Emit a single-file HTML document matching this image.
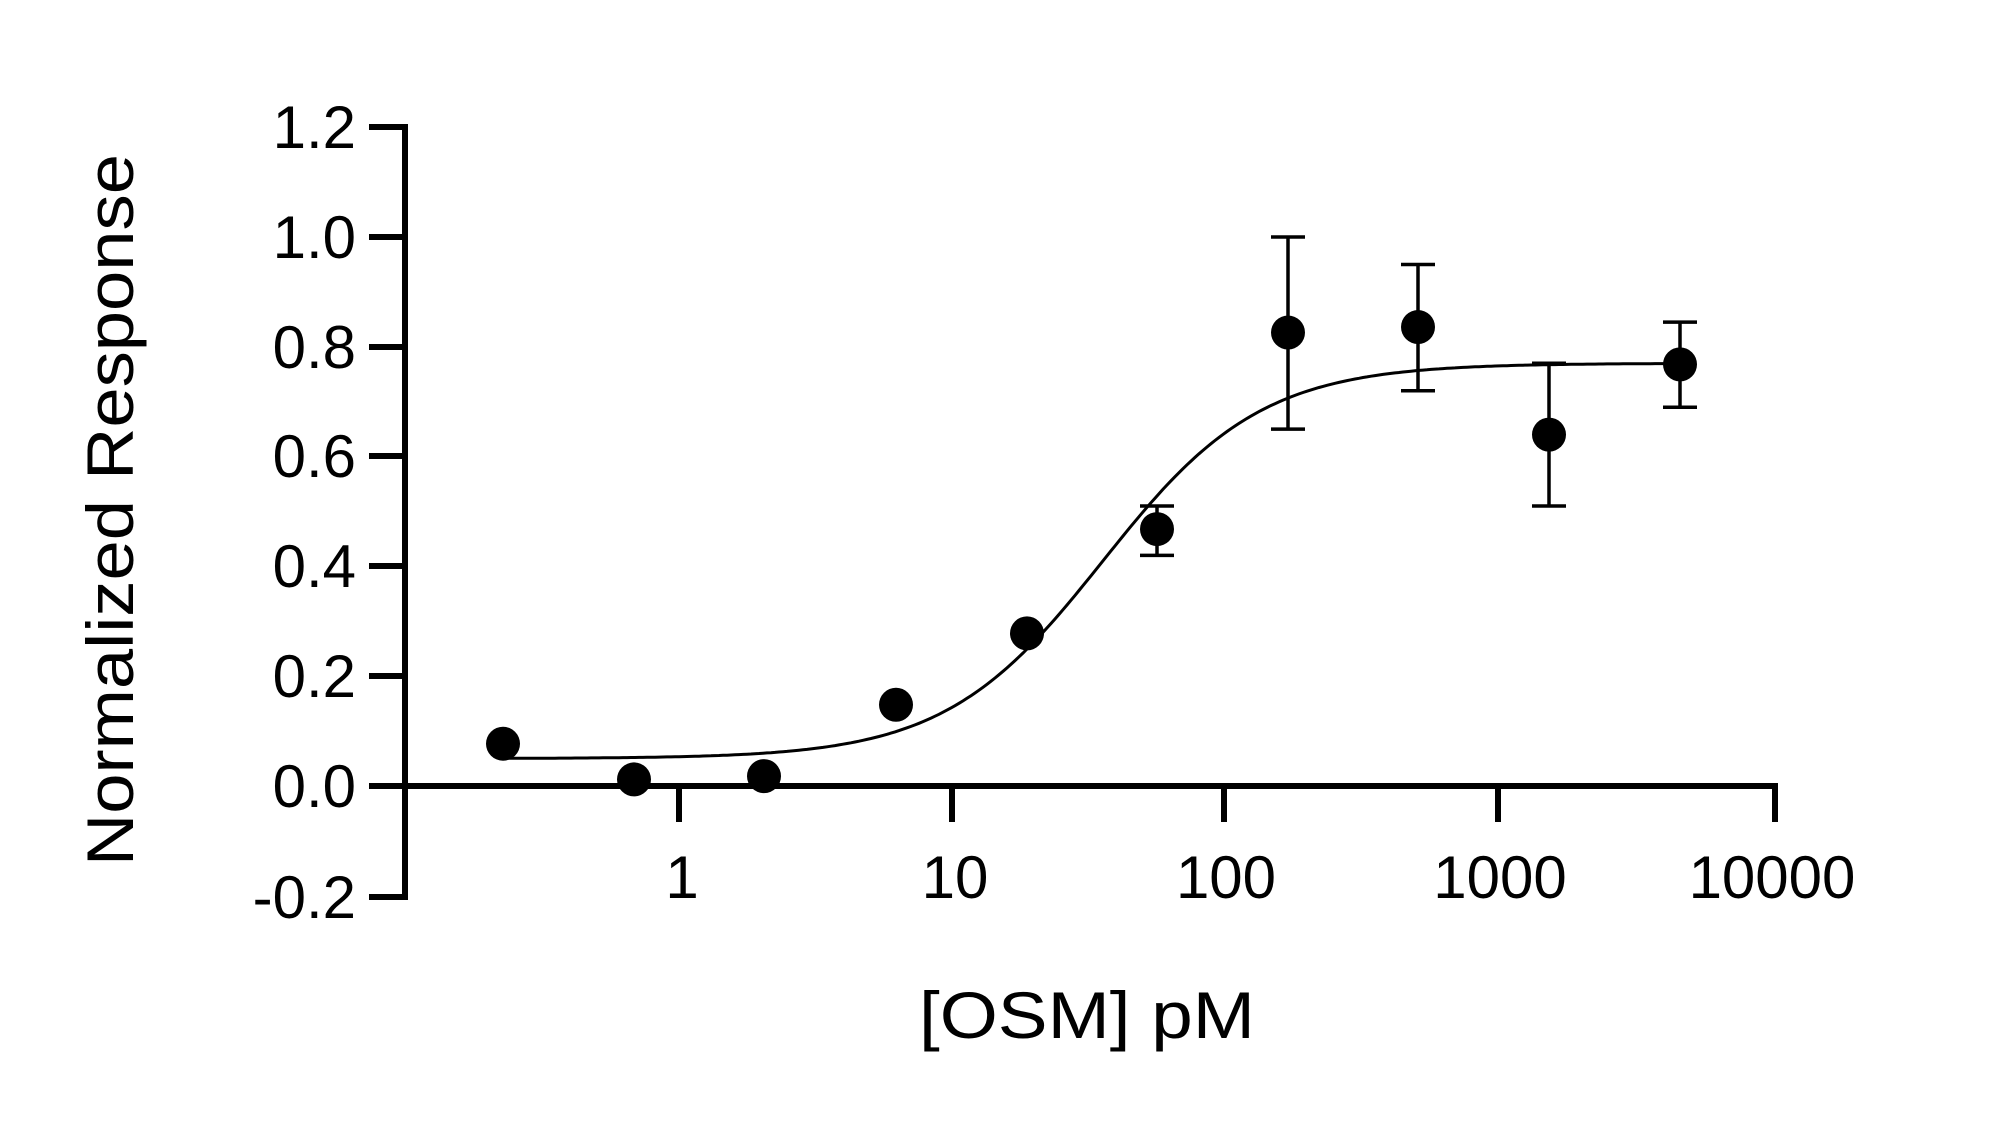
<!DOCTYPE html>
<html><head><meta charset="utf-8"><style>html,body{margin:0;padding:0;background:#fff}</style></head>
<body>
<svg id="s" width="2000" height="1125" xmlns="http://www.w3.org/2000/svg" font-family="Liberation Sans, sans-serif" fill="#000">
<g stroke="#000" stroke-width="6" fill="none">
<line x1="405" y1="124" x2="405" y2="900"/>
<line x1="402" y1="786" x2="1778" y2="786"/>
<line x1="369" y1="127" x2="405" y2="127"/>
<line x1="369" y1="237" x2="405" y2="237"/>
<line x1="369" y1="347" x2="405" y2="347"/>
<line x1="369" y1="456" x2="405" y2="456"/>
<line x1="369" y1="566" x2="405" y2="566"/>
<line x1="369" y1="676" x2="405" y2="676"/>
<line x1="369" y1="786" x2="405" y2="786"/>
<line x1="369" y1="897" x2="408" y2="897"/>
<line x1="679" y1="786" x2="679" y2="822"/>
<line x1="952" y1="786" x2="952" y2="822"/>
<line x1="1224" y1="786" x2="1224" y2="822"/>
<line x1="1498" y1="786" x2="1498" y2="822"/>
<line x1="1775" y1="786" x2="1775" y2="822"/>
</g>
<g font-size="60" text-anchor="end">
<text x="356" y="148">1.2</text>
<text x="356" y="258">1.0</text>
<text x="356" y="368">0.8</text>
<text x="356" y="477">0.6</text>
<text x="356" y="587">0.4</text>
<text x="356" y="697">0.2</text>
<text x="356" y="807">0.0</text>
<text x="356" y="918">-0.2</text>
</g>
<g font-size="60" text-anchor="middle">
<text x="682" y="898">1</text>
<text x="955" y="898">10</text>
<text x="1226" y="898">100</text>
<text x="1500" y="898">1000</text>
<text x="1772" y="898">10000</text>
</g>
<text x="919" y="1038" font-size="66" textLength="336" lengthAdjust="spacingAndGlyphs">[OSM] pM</text>
<text transform="translate(133,866) rotate(-90)" font-size="66" textLength="712" lengthAdjust="spacingAndGlyphs">Normalized Response</text>
<path id="curve" stroke="#000" stroke-width="3" fill="none" d=""/>
<g id="pts"></g>
</svg>
<script>
var Y=function(v){return 786-v*549;};
var d="";
for(var px=503;px<=1680;px+=4){var l=(px-679)/273.5;var v=0.05+0.72/(1+Math.pow(10,1.5*(1.55-l)));d+=(d?"L":"M")+px+","+Y(v).toFixed(1);}
document.getElementById("curve").setAttribute("d",d);
var pts=[[503,0.077],[634,0.012],[764,0.018],[896,0.148],[1027,0.278],[1157,0.468,0.42,0.51],[1288,0.826,0.65,1.0],[1418,0.836,0.72,0.95],[1549,0.64,0.51,0.77],[1680,0.768,0.69,0.845]];
var g=document.getElementById("pts"),h="";
pts.forEach(function(p){
 if(p.length>2){var a=Y(p[2]),b=Y(p[3]);
  h+='<line x1="'+p[0]+'" y1="'+a+'" x2="'+p[0]+'" y2="'+b+'" stroke="#000" stroke-width="3.5"/>';
  h+='<line x1="'+(p[0]-17)+'" y1="'+a+'" x2="'+(p[0]+17)+'" y2="'+a+'" stroke="#000" stroke-width="3.5"/>';
  h+='<line x1="'+(p[0]-17)+'" y1="'+b+'" x2="'+(p[0]+17)+'" y2="'+b+'" stroke="#000" stroke-width="3.5"/>';}
 h+='<circle cx="'+p[0]+'" cy="'+Y(p[1])+'" r="17"/>';
});
g.innerHTML=h;
</script>
</body></html>
